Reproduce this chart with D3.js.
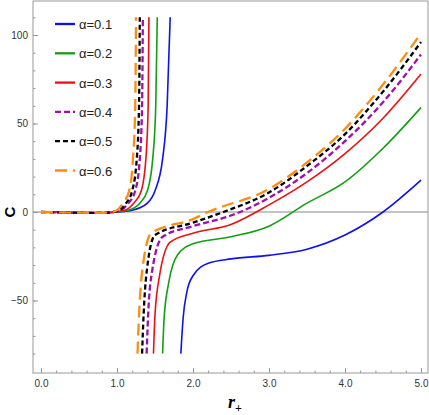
<!DOCTYPE html><html><head><meta charset="utf-8"><script src="https://cdn.jsdelivr.net/npm/d3@7"></script>
<style>body{margin:0;background:#fff}</style></head><body><svg id="c" width="429" height="415"></svg><script>
const alphas=["α=0.1","α=0.2","α=0.3","α=0.4","α=0.5","α=0.6"];
const colors=["#1010ee","#10a010","#ee1010","#a010a8","#000000","#ff8c10"];
const dashes=[null,null,null,"6,3","5,3","12,6"];
const upperX=[[0,0.5,0.8,1.0,1.2,1.4,1.5,1.6,1.66,1.70],[0,0.5,0.8,1.0,1.15,1.3,1.4,1.47,1.51,1.53],[0,0.5,0.8,0.95,1.1,1.22,1.32,1.38,1.41,1.42],[0,0.5,0.8,0.95,1.05,1.15,1.24,1.3,1.33,1.34],[0,0.5,0.8,0.95,1.03,1.12,1.2,1.26,1.29,1.30],[0,0.5,0.8,0.93,1.0,1.08,1.16,1.21,1.24,1.25]];
const upperY=[[0,-0.4,-0.5,0,1,5,12,30,60,110],[0,-0.4,-0.5,0,1,5,12,30,60,110],[0,-0.4,-0.5,0,1,5,12,30,60,110],[0,-0.4,-0.5,0,1,5,12,30,60,110],[0,-0.4,-0.5,0,1,5,12,30,60,110],[0,-0.4,-0.5,0,1,5,12,30,60,110]];
const lowerX=[[1.84,1.87,1.92,2.0,2.2,2.5,3.0,3.5,4.0,4.5,5.0],[1.60,1.62,1.68,1.8,2.0,2.5,3.0,3.5,4.0,4.5,5.0],[1.48,1.50,1.56,1.7,2.0,2.5,3.0,3.5,4.0,4.5,5.0],[1.39,1.41,1.46,1.6,2.0,2.5,3.0,3.5,4.0,4.5,5.0],[1.33,1.35,1.39,1.5,2.0,2.4,3.0,3.5,4.0,4.5,5.0],[1.27,1.29,1.33,1.45,2.0,2.2,3.0,3.5,4.0,4.5,5.0]];
const lowerY=[[-80,-60,-45,-36,-29,-26.5,-24.5,-21,-13,0,18],[-80,-60,-40,-24,-18,-14,-8,5,17,36,59],[-80,-58,-36,-17,-12,-7,4,17,33,53,78],[-80,-58,-34,-14,-8,-2,8,22,40,62,89],[-80,-58,-34,-13,-6,0,11,26,44,68,96],[-80,-58,-34,-12,-4,0,13,28,47,72,101]];
const xTicks=[0,1,2,3,4,5], yTicks=[-50,0,50,100];
const svg=d3.select("#c");
const L=33,R=428,T=1,B=373;
const x=d3.scaleLinear().domain([0,5]).range([41,421]);
const y=d3.scaleLinear().domain([0,-50]).range([212,300.5]);
svg.append("rect").attr("x",L).attr("y",T).attr("width",R-L).attr("height",B-T).attr("fill","none").attr("stroke","#999");
svg.append("line").attr("x1",L).attr("x2",R).attr("y1",y(0)).attr("y2",y(0)).attr("stroke","#888").attr("stroke-width",1.2);
const gx=svg.append("g").attr("transform",`translate(0,${B})`).call(d3.axisBottom(x).tickValues(xTicks).tickSize(-5).tickPadding(7));
gx.append("g").call(d3.axisBottom(x).tickValues(d3.range(0,5.01,0.2)).tickSize(-2.5).tickFormat(""));
const gy=svg.append("g").attr("transform",`translate(${L},0)`).call(d3.axisLeft(y).tickValues(yTicks).tickSize(-5).tickPadding(5));
gy.append("g").call(d3.axisLeft(y).tickValues(d3.range(-80,111,10)).tickSize(-2.5).tickFormat(""));
svg.selectAll(".domain").remove();
svg.selectAll(".tick line").attr("stroke","#999");
svg.selectAll(".tick text").attr("font-family","Liberation Sans Narrow, Liberation Sans, sans-serif").attr("font-size",10).attr("fill","#333");
const line=d3.line().x(d=>x(d[0])).y(d=>y(d[1])).curve(d3.curveMonotoneX);
const clip=svg.append("clipPath").attr("id","cp").append("rect").attr("x",L).attr("y",T).attr("width",R-L).attr("height",B-T);
for(let i=0;i<6;i++){
 [[upperX[i],upperY[i]],[lowerX[i],lowerY[i]]].forEach(([xs,ys])=>{
  svg.append("path").datum(xs.map((v,k)=>[v,ys[k]])).attr("d",line).attr("fill","none").attr("stroke",colors[i]).attr("stroke-width",i>=3?2.3:1.6).attr("stroke-dasharray",dashes[i]).attr("clip-path","url(#cp)");
 });
 const ly=24+i*29.3;
 svg.append("line").attr("x1",55).attr("x2",75).attr("y1",ly).attr("y2",ly).attr("stroke",colors[i]).attr("stroke-width",2.3).attr("stroke-dasharray",dashes[i]);
 svg.append("text").attr("x",79).attr("y",ly+5).text(alphas[i]).attr("font-family","Liberation Sans Narrow, Liberation Sans, sans-serif").attr("font-size",13).attr("fill","#222");
}
svg.append("text").attr("transform","translate(15,212) rotate(-90)").attr("text-anchor","middle").attr("font-family","Liberation Sans, sans-serif").attr("font-weight","bold").attr("font-size",15).text("C");
const xl=svg.append("text").attr("x",228).attr("y",408).attr("font-family","Liberation Serif, serif").attr("font-style","italic").attr("font-weight","bold").attr("font-size",18).text("r");
xl.append("tspan").attr("dy",4).attr("font-size",12).attr("font-style","normal").text("+");
</script></body></html>
